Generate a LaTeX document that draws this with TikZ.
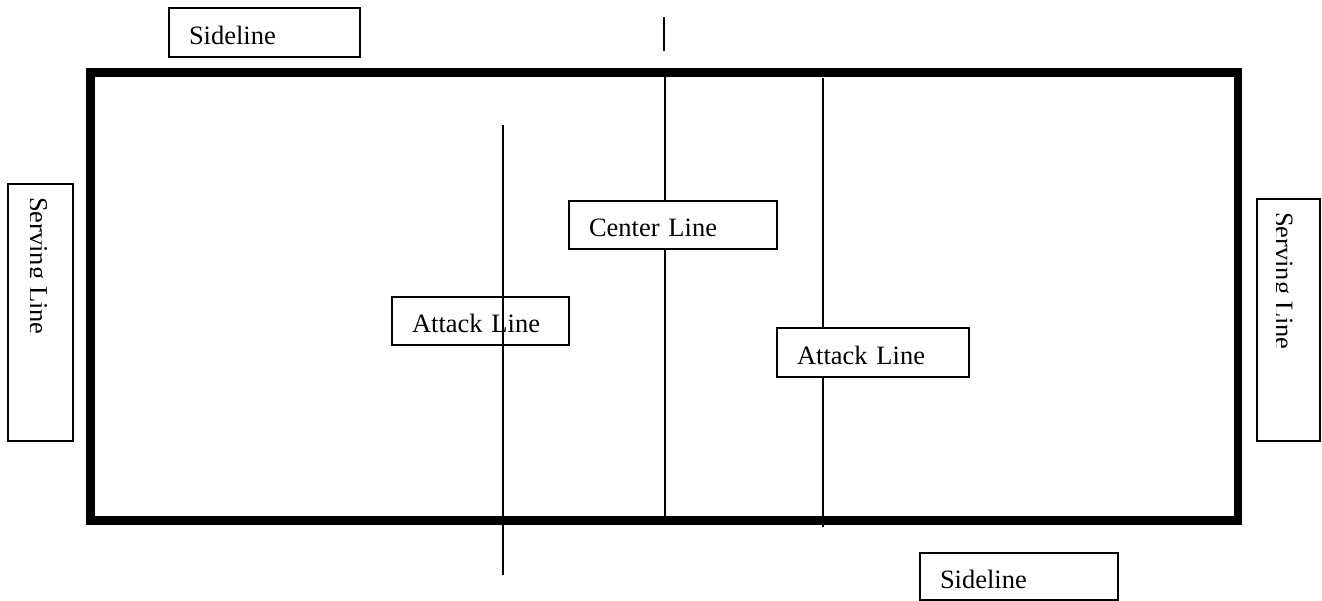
\documentclass[tikz,border=0pt]{standalone}
\usepackage{fontspec}
\setmainfont{Liberation Serif}
\begin{document}
\begin{tikzpicture}[x=1pt,y=-1pt,
  lbl/.style={draw,fill=white,line width=1.8pt,rectangle,anchor=north west,outer sep=0pt,
    inner ysep=0pt,inner xsep=20pt,align=left,text height=23pt,text depth=0pt,font=\fontsize{26.5}{30}\selectfont},
  framebox/.style={draw,fill=white,line width=1.8pt,rectangle,anchor=north west,outer sep=0pt,inner sep=0pt},
  rotlbl/.style={rotate=-90,anchor=base west,inner sep=0pt,outer sep=0pt,font=\fontsize{26.5}{30}\selectfont},
  court/.style={line width=8.5pt},
  courtline/.style={line width=1.8pt}]
\useasboundingbox (0,0) rectangle (1322,600);

% court outline
\draw[court] (90.5,72.5) rectangle (1238,520.5);

% named end points of the lines
\coordinate (cTop) at (665,72.5);
\coordinate (cBot) at (665,520.5);
\coordinate (nTop) at (664,17);
\coordinate (nBot) at (664,51);
\coordinate (aLTop) at (503,125);
\coordinate (aLBot) at (503,575);
\coordinate (aRTop) at (823,78);
\coordinate (aRBot) at (823,527);

\draw[courtline] (nTop) -- (nBot);
\draw[courtline] (cTop) -- (cBot);
\draw[courtline] (aRTop) -- (aRBot);

% labels
\node[lbl,minimum width=191,minimum height=49,text width=151pt] (sideTop) at (169,8) {Sideline};
\node[lbl,minimum width=208,minimum height=48,text width=168pt] (center) at (569,201) {Center Line};
\node[lbl,minimum width=177,minimum height=48,text width=137pt] (attackL) at (392,297) {Attack Line};
\node[lbl,minimum width=192,minimum height=49,text width=152pt] (attackR) at (777,328) {Attack Line};
\node[lbl,minimum width=198,minimum height=47,text width=158pt] (sideBot) at (920,553) {Sideline};

\draw[courtline] (aLTop) -- (aLBot);

% serving line boxes
\node[framebox,minimum width=65,minimum height=257] (servL) at (8,184) {};
\node[framebox,minimum width=63,minimum height=242] (servR) at (1257,199) {};
\begin{scope}
  \clip (30.5,190) rectangle (70,430);
  \node[rotlbl] (servLtxt) at (29.5,197) {Serving Line};
\end{scope}
\begin{scope}
  \clip (1276,205) rectangle (1315,430);
  \node[rotlbl] (servRtxt) at (1275,212) {Serving Line};
\end{scope}
\end{tikzpicture}
\end{document}
